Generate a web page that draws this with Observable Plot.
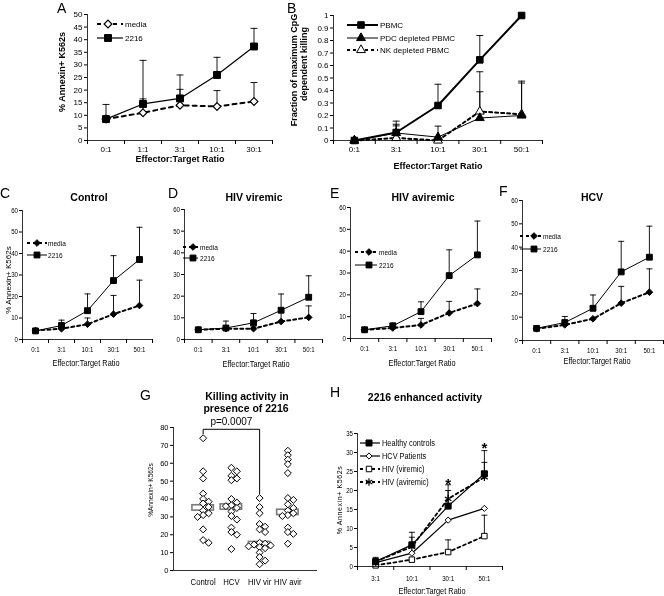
<!DOCTYPE html>
<html><head><meta charset="utf-8">
<script src="https://cdn.jsdelivr.net/npm/d3@7"></script>
<script src="https://cdn.jsdelivr.net/npm/@observablehq/plot@0.6"></script>
<style>
body{margin:0;background:#fff;}
#fig{position:relative;width:664px;height:596px;overflow:hidden;background:#fff;}
#fig > svg{position:absolute;will-change:transform;}
</style></head><body><div id="fig"></div>
<script>
// ---------------- data ----------------
const ratiosA = ["0:1","1:1","3:1","10:1","30:1"];
const aMedia   = [8.5, 11, 14, 13.5, 15.5];
const aMediaUp = [null, 16.5, 20.3, 19.8, 23];
const a2216    = [8.5, 14.5, 16.7, 26, 37.3];
const a2216Up  = [14.3, 31.8, 26, 33, 44.5];
const yTicksA  = [0,5,10,15,20,25,30,35,40,45,50];

const ratiosB = ["0:1","3:1","10:1","30:1","50:1"];
const bPBMC    = [0, 0.064, 0.28, 0.645, 1];
const bPBMCUp  = [null, 0.155, 0.45, 0.84, null];
const bPDC     = [0, 0.06, 0.027, 0.18, 0.2];
const bPDCUp   = [null, 0.117, 0.115, 0.39, 0.46];
const bNK      = [0, 0.02, 0, 0.232, 0.21];
const bNKUp    = [null, 0.13, null, 0.55, 0.475];
const yTicksB  = [0,0.1,0.2,0.3,0.4,0.5,0.6,0.7,0.8,0.9,1];

const ratiosCF = ["0:1","3:1","10:1","30:1","50:1"];
const yTicksCF = [0,10,20,30,40,50,60];
const cMedia = [4.2, 5, 7.1, 11.8, 15.8];   const cMediaUp = [null, 6, 10, 20.5, 27.6];
const c2216  = [4, 6.5, 13.4, 27.4, 37.2];  const c2216Up  = [null, 9, 21.2, 39, 52.2];
const dMedia = [4.5, 5, 5, 8.3, 10.2];      const dMediaUp = [null, null, 5.8, 12.5, 15.5];
const d2216  = [4.5, 5.3, 7.7, 13.5, 19.5]; const d2216Up  = [null, 8.5, 12, 21, 29.4];
const eMedia = [4, 4.8, 6.2, 11.7, 16];     const eMediaUp = [null, null, 9.2, 17, 22.7];
const e2216  = [4, 5.8, 12.3, 28.8, 38.3];  const e2216Up  = [null, 7, 16.8, 40.6, 53.8];
const fMedia = [5, 6.7, 9.3, 16, 20.7];     const fMediaUp = [null, null, null, 23.2, 30.7];
const f2216  = [5.2, 7.7, 13.8, 29.4, 35.7];const f2216Up  = [null, 10.3, 19.5, 42.5, 49];

const groupsG  = ["Control","HCV","HIV vir","HIV avir"];
const gControl = [74, 55.5, 51.5, 43, 40, 38.5, 37.5, 35.5, 33.5, 32, 31, 30, 23, 17, 15.5];
const gHCV     = [57.5, 55.5, 53, 51.5, 50.5, 40, 38, 36.5, 36, 35, 33, 30.5, 28.5, 24, 21.5, 20, 12];
const gHIVvir  = [40.5, 35.5, 32, 26, 24.5, 23, 21.5, 15.5, 15, 14.5, 14, 13.5, 13, 12.5, 10, 7.5, 5.5, 3.5];
const gHIVavir = [67, 64.5, 62, 59.5, 54.5, 40.5, 39.5, 37, 35, 33.5, 32, 31, 30.5, 24, 21.5, 20.5, 15];
const gMedians = [35, 35.5, 14.5, 32.5];
const yTicksG  = [0,10,20,30,40,50,60,70,80];
const gPText   = "p=0.0007";
const gBracketTop = 79;

const ratiosH = ["3:1","10:1","30:1","50:1"];
const hHealthy   = [1.3, 5.7, 15.9, 24.4]; const hHealthyUp = [2.4, 9, 21.5, 30.5];
const hHCV       = [1.0, 3.5, 12.2, 15.3]; const hHCVUp     = [null, null, null, null];
const hVir       = [0.3, 1.8, 3.8, 8];     const hVirUp     = [null, null, 7, 13.5];
const hAvir      = [1.3, 5.2, 17.8, 23.5]; const hAvirUp    = [null, 7.7, 20, 27.4];
const hStars     = [null, null, 22.6, 32.1];
const yTicksH    = [0,5,10,15,20,25,30,35];

// ---------------- setup ----------------
const FONT = '"Liberation Sans", Arial, Helvetica, sans-serif';
const NARROWF = 0.82; // horizontal squeeze emulating Arial Narrow
const fig = document.getElementById("fig");
const capSymbol = {draw(ctx, size){ const s = Math.sqrt(size/Math.PI); ctx.moveTo(-s,0); ctx.lineTo(s,0); }};
const symType = {square: d3.symbolSquare, diamond2: d3.symbolDiamond2, triangle: d3.symbolTriangle, asterisk: d3.symbolAsterisk};

function squeeze(t, f){
  const x = t.getAttribute("x");
  let tr = t.getAttribute("transform") || "";
  if (x != null && /^-?[\d.]+$/.test(x.trim())){ tr += ` translate(${x},0)`; t.removeAttribute("x"); }
  t.setAttribute("transform", (tr + ` scale(${f},1)`).trim());
}
function place(svg, left, top, narrow, filter){
  svg.style.left = left+"px"; svg.style.top = top+"px"; fig.appendChild(svg);
  if (narrow) svg.querySelectorAll("text").forEach(t => { if (!filter || filter(t.textContent)) squeeze(t, NARROWF); });
}

function linePanel(o){
  const n = o.cats.length;
  const rowsOf = s => s.v.map((v,i)=>({i, v, e: s.e ? s.e[i] : null}));
  const marks = [];
  for (const s of o.series){
    const er = rowsOf(s).filter(d => d.e != null);
    marks.push(Plot.ruleX(er, {x:"i", y1:"v", y2:"e", stroke:"black", strokeWidth:0.9}));
    marks.push(Plot.dot(er, {x:"i", y:"e", symbol:capSymbol, r:o.capR ?? 3, stroke:"black", strokeWidth:0.9, fill:"none"}));
  }
  for (const s of o.series) marks.push(Plot.line(rowsOf(s), {x:"i", y:"v", stroke:"black", strokeWidth:s.lw, strokeDasharray:s.dash}));
  for (const s of o.series) marks.push(Plot.dot(rowsOf(s), {x:"i", y:"v", symbol:s.sym, r:s.r, fill:s.fill, stroke:"black", strokeWidth:s.sw ?? 1}));
  if (o.extra) marks.push(...o.extra);
  marks.push(Plot.ruleX([-0.5], {stroke:"black", strokeWidth:0.8}));
  marks.push(Plot.ruleY([0], {stroke:"black", strokeWidth:0.8}));
  marks.push(Plot.axisY({ticks:o.yTicks, tickSize:o.yTickSize ?? 3, tickPadding:o.yPad ?? 2, tickFormat:o.yFmt ?? (d=>String(d)), fontSize:o.fs, fontFamily:FONT, label:null}));
  marks.push(Plot.axisX({ticks:d3.range(n+1).map(k=>k-0.5), tickSize:4, tickFormat:()=>"", label:null}));
  marks.push(Plot.axisX({ticks:d3.range(n), tickSize:0, tickPadding:o.xPad ?? 6, tickFormat:i=>o.cats[i], fontSize:o.fs, fontFamily:FONT, label:null}));
  const svg = Plot.plot({
    width:o.w, height:o.h, marginLeft:o.ml, marginRight:o.mr, marginTop:o.mt, marginBottom:o.mb,
    x:{type:"linear", domain:[-0.5, n-0.5], axis:null},
    y:{type:"linear", domain:o.yDomain, axis:null},
    style:{fontFamily:FONT, background:"transparent", overflow:"visible", color:"black"},
    marks
  });
  place(svg, o.left, o.top, o.narrow, o.narrowFilter);
}

// series definitions (styles)
const serA = [
  {v:aMedia, e:aMediaUp, sym:"diamond2", r:3.5, fill:"white", lw:2, dash:"4,4", sw:1.2},
  {v:a2216,  e:a2216Up,  sym:"square",   r:3.9, fill:"black", lw:1.2}
];
const serB = [
  {v:bNK,   e:bNKUp,   sym:"triangle", r:3.3, fill:"white", lw:2, dash:"3,3"},
  {v:bPDC,  e:bPDCUp,  sym:"triangle", r:3.3, fill:"black", lw:1},
  {v:bPBMC, e:bPBMCUp, sym:"square",   r:3.7, fill:"black", lw:2}
];
const mediaStyle = {sym:"diamond2", r:3, fill:"black", lw:2, dash:"3,3"};
const s2216Style = {sym:"square", r:3.3, fill:"black", lw:1};
const serH = [
  {v:hVir,     e:hVirUp,     sym:"square",   r:3.1, fill:"white", lw:1.8, dash:"3,3"},
  {v:hAvir,    e:hAvirUp,    sym:"asterisk", r:3.6, fill:"none",  lw:1.8, dash:"3,3", sw:1.2},
  {v:hHCV,     e:hHCVUp,     sym:"diamond2", r:2.8, fill:"white", lw:1.2},
  {v:hHealthy, e:hHealthyUp, sym:"square",   r:3.4, fill:"black", lw:1.2}
];

// Panel A
linePanel({left:0, top:0, w:330, h:175, ml:87, mr:58, mt:14, mb:35, cats:ratiosA, yDomain:[0,50], yTicks:yTicksA, fs:8, xPad:6, capR:3.5, series:serA});
// Panel B
linePanel({left:270, top:0, w:300, h:175, ml:63, mr:28, mt:15, mb:35, cats:ratiosB, yDomain:[0,1], yTicks:yTicksB, yFmt:d=>String(Math.round(d*10)/10), fs:8, xPad:6, capR:3.5, series:serB});
// Panels C-F
const cf = [
  {left:0,   w:165, ml:22, mr:13, mt:15, mb:31, m:[cMedia,cMediaUp], s:[c2216,c2216Up]},
  {left:165, w:170, ml:19, mr:13, mt:14, mb:31, m:[dMedia,dMediaUp], s:[d2216,d2216Up]},
  {left:330, w:170, ml:20, mr:9,  mt:12, mb:32, m:[eMedia,eMediaUp], s:[e2216,e2216Up]},
  {left:495, w:169, ml:27, mr:1,  mt:5,  mb:30, m:[fMedia,fMediaUp], s:[f2216,f2216Up]}
];
for (const p of cf){
  linePanel({left:p.left, top:195, w:p.w, h:175, ml:p.ml, mr:p.mr, mt:p.mt, mb:p.mb, cats:ratiosCF, yDomain:[0,60], yTicks:yTicksCF, fs:7.5, xPad:7, yPad:1.5, capR:3, narrow:true,
    series:[{v:p.m[0], e:p.m[1], ...mediaStyle}, {v:p.s[0], e:p.s[1], ...s2216Style}]});
}
// Panel H
const starRows = hStars.map((s,i)=>({i, s})).filter(d=>d.s!=null);
linePanel({left:330, top:375, w:180, h:221, ml:27, mr:8, mt:58, mb:30, cats:ratiosH, yDomain:[0,35], yTicks:yTicksH, fs:7.5, xPad:9, yPad:1.5, capR:3, series:serH,
  narrow:true, narrowFilter:s => s !== "*",
  extra:[Plot.text(starRows, {x:"i", y:"s", text:()=>"*", fontSize:15, fontWeight:"bold", fontFamily:FONT, dy:4})]});

// Panel G
(function(){
  const groups = [gControl, gHCV, gHIVvir, gHIVavir];
  const domain = [-1.05, 4.05];
  const pxX = 144/(domain[1]-domain[0]), pxY = 143/80;
  function swarm(vals, step, minDy){
    const placed = [];
    return vals.map(v=>{
      const py = v*pxY;
      for (let k=0;k<40;k++){
        const off = k===0 ? 0 : (k%2 ? 1 : -1)*Math.ceil(k/2)*step;
        if (placed.every(p => Math.abs(p.py-py) >= minDy || Math.abs(p.off-off) >= step*0.99)){ placed.push({py, off}); return off; }
      }
      return 0;
    });
  }
  const rows = [];
  groups.forEach((vals, gi)=>{ const offs = swarm(vals, 5.5, 4); vals.forEach((v,j)=>rows.push({x: gi + offs[j]/pxX, v})); });
  const med = gMedians.map((m,i)=>({i, m}));
  const bracket = [
    {x:0, y:d3.max(gControl)+2.5}, {x:0, y:gBracketTop}, {x:2, y:gBracketTop}, {x:2, y:d3.max(gHIVvir)+2.5}
  ];
  const svg = Plot.plot({
    width:215, height:216, marginLeft:53, marginRight:18, marginTop:47, marginBottom:26,
    x:{type:"linear", domain, axis:null},
    y:{type:"linear", domain:[0,80], axis:null},
    style:{fontFamily:FONT, background:"transparent", overflow:"visible", color:"black"},
    marks:[
      Plot.rect(med, {x1:d=>d.i-0.38, x2:d=>d.i+0.38, y1:d=>d.m-1.5, y2:d=>d.m+1.5, fill:"white", stroke:"#7a7a7a", strokeWidth:1.6}),
      Plot.dot(rows, {x:"x", y:"v", symbol:"diamond2", r:3.15, fill:"white", stroke:"black", strokeWidth:1}),
      Plot.line(bracket, {x:"x", y:"y", stroke:"black", strokeWidth:1}),
      Plot.text([gPText], {x:1, y:gBracketTop, text:d=>d, dy:-7, fontSize:10, fontFamily:FONT}),
      Plot.ruleX([domain[0]], {stroke:"black", strokeWidth:0.8}),
      Plot.ruleY([0], {stroke:"black", strokeWidth:0.8}),
      Plot.axisY({ticks:yTicksG, tickSize:3, tickPadding:2, fontSize:7.5, fontFamily:FONT, label:null}),
      Plot.axisX({ticks:[0,1,2,3], tickSize:0, tickPadding:8, tickFormat:i=>groupsG[i], fontSize:9.5, fontFamily:FONT, label:null})
    ]
  });
  place(svg, 120, 380, true, s => groupsG.includes(s));
})();

// ---------------- overlay: letters, titles, axis titles, legends ----------------
const ov = d3.select(fig).append("svg").attr("width",664).attr("height",596).style("left","0px").style("top","0px");
function txt(x, y, s, {size=10, weight="normal", anchor="middle", rotate=false, ls=null, narrow=false}={}){
  const sc = narrow ? ` scale(${NARROWF},1)` : "";
  const t = ov.append("text").attr("font-size", size).attr("font-weight", weight).attr("font-family", FONT)
    .attr("text-anchor", anchor).attr("dy","0.35em").text(s)
    .attr("transform", `translate(${x},${y})` + (rotate ? " rotate(-90)" : "") + sc);
  if (ls) t.attr("letter-spacing", ls);
}
function legendItem(x1, x2, mx, y, tx, label, s, fs, narrow){
  ov.append("line").attr("x1",x1).attr("x2",x2).attr("y1",y).attr("y2",y).attr("stroke","black").attr("stroke-width",s.lw).attr("stroke-dasharray", s.dash || null);
  ov.append("path").attr("d", d3.symbol(symType[s.sym], Math.PI*s.r*s.r)()).attr("transform",`translate(${mx},${y})`)
    .attr("fill", s.fill).attr("stroke","black").attr("stroke-width", s.sw ?? 1);
  txt(tx, y, label, {size:fs, anchor:"start", narrow});
}
const LET = 14;
// A
txt(57, 8, "A", {size:LET, anchor:"start"});
txt(180, 159, "Effector:Target Ratio", {size:9, weight:"bold"});
txt(62, 72, "% Annexin+ K562s", {size:9, weight:"bold", rotate:true});
legendItem(97, 123, 108, 24, 125, "media", serA[0], 8);
legendItem(97, 123, 108, 38, 125, "2216", serA[1], 8);
// B
txt(287, 8, "B", {size:LET, anchor:"start"});
txt(294, 70, "Fraction of maximum CpG", {size:9, weight:"bold", rotate:true});
txt(304, 64, "dependent killing", {size:9, weight:"bold", rotate:true});
txt(438, 166, "Effector:Target Ratio", {size:9, weight:"bold"});
legendItem(347, 378, 361, 25, 380, "PBMC", serB[2], 8);
legendItem(347, 378, 361, 38, 380, "PDC depleted PBMC", serB[1], 8);
legendItem(347, 378, 361, 50, 380, "NK depleted PBMC", serB[0], 8);
// C-F
const cfText = [
  {L:"C", lx:0,   ly:193, title:"Control",      tx:89,  ax:86,  ay:363, leg:[27,47,37,48,243,255]},
  {L:"D", lx:168, ly:193, title:"HIV viremic",  tx:254, ax:256, ay:364, leg:[183,198,193,200,247,258]},
  {L:"E", lx:330, ly:193, title:"HIV aviremic", tx:423, ax:422, ay:363, leg:[355,377,369,379,252,265]},
  {L:"F", lx:499, ly:191, title:"HCV",          tx:592, ax:597, ay:361, leg:[520,541,534,543,236,249]}
];
for (const c of cfText){
  txt(c.lx, c.ly, c.L, {size:LET, anchor:"start"});
  txt(c.tx, 197, c.title, {size:10.5, weight:"bold"});
  txt(c.ax, c.ay, "Effector:Target Ratio", {size:9, narrow:true});
  const [x1,x2,mx,tx,y1,y2] = c.leg;
  legendItem(x1, x2, mx, y1, tx, "media", mediaStyle, 8, true);
  legendItem(x1, x2, mx, y2, tx, "2216", s2216Style, 8, true);
}
txt(8.5, 280, "% Annexin+ K562s", {size:8, rotate:true});
// G
txt(140, 395, "G", {size:LET, anchor:"start"});
txt(247, 396, "Killing activity in", {size:10.5, weight:"bold"});
txt(246, 408, "presence of 2216", {size:10.5, weight:"bold"});
txt(150, 490, "%Annexin+ K562s", {size:8, rotate:true, narrow:true});
// H
txt(330, 392, "H", {size:LET, anchor:"start"});
txt(425, 397, "2216 enhanced activity", {size:10.5, weight:"bold"});
txt(432, 591, "Effector:Target Ratio", {size:9, narrow:true});
txt(340, 500, "% Annexin+ K562s", {size:7, rotate:true, ls:0.6});
legendItem(360, 380, 369, 443, 382, "Healthy controls", serH[3], 9, true);
legendItem(360, 380, 369, 456, 382, "HCV Patients", serH[2], 9, true);
legendItem(360, 380, 369, 469, 382, "HIV (viremic)", serH[0], 9, true);
legendItem(360, 380, 369, 482, 382, "HIV (aviremic)", serH[1], 9, true);
</script></body></html>
